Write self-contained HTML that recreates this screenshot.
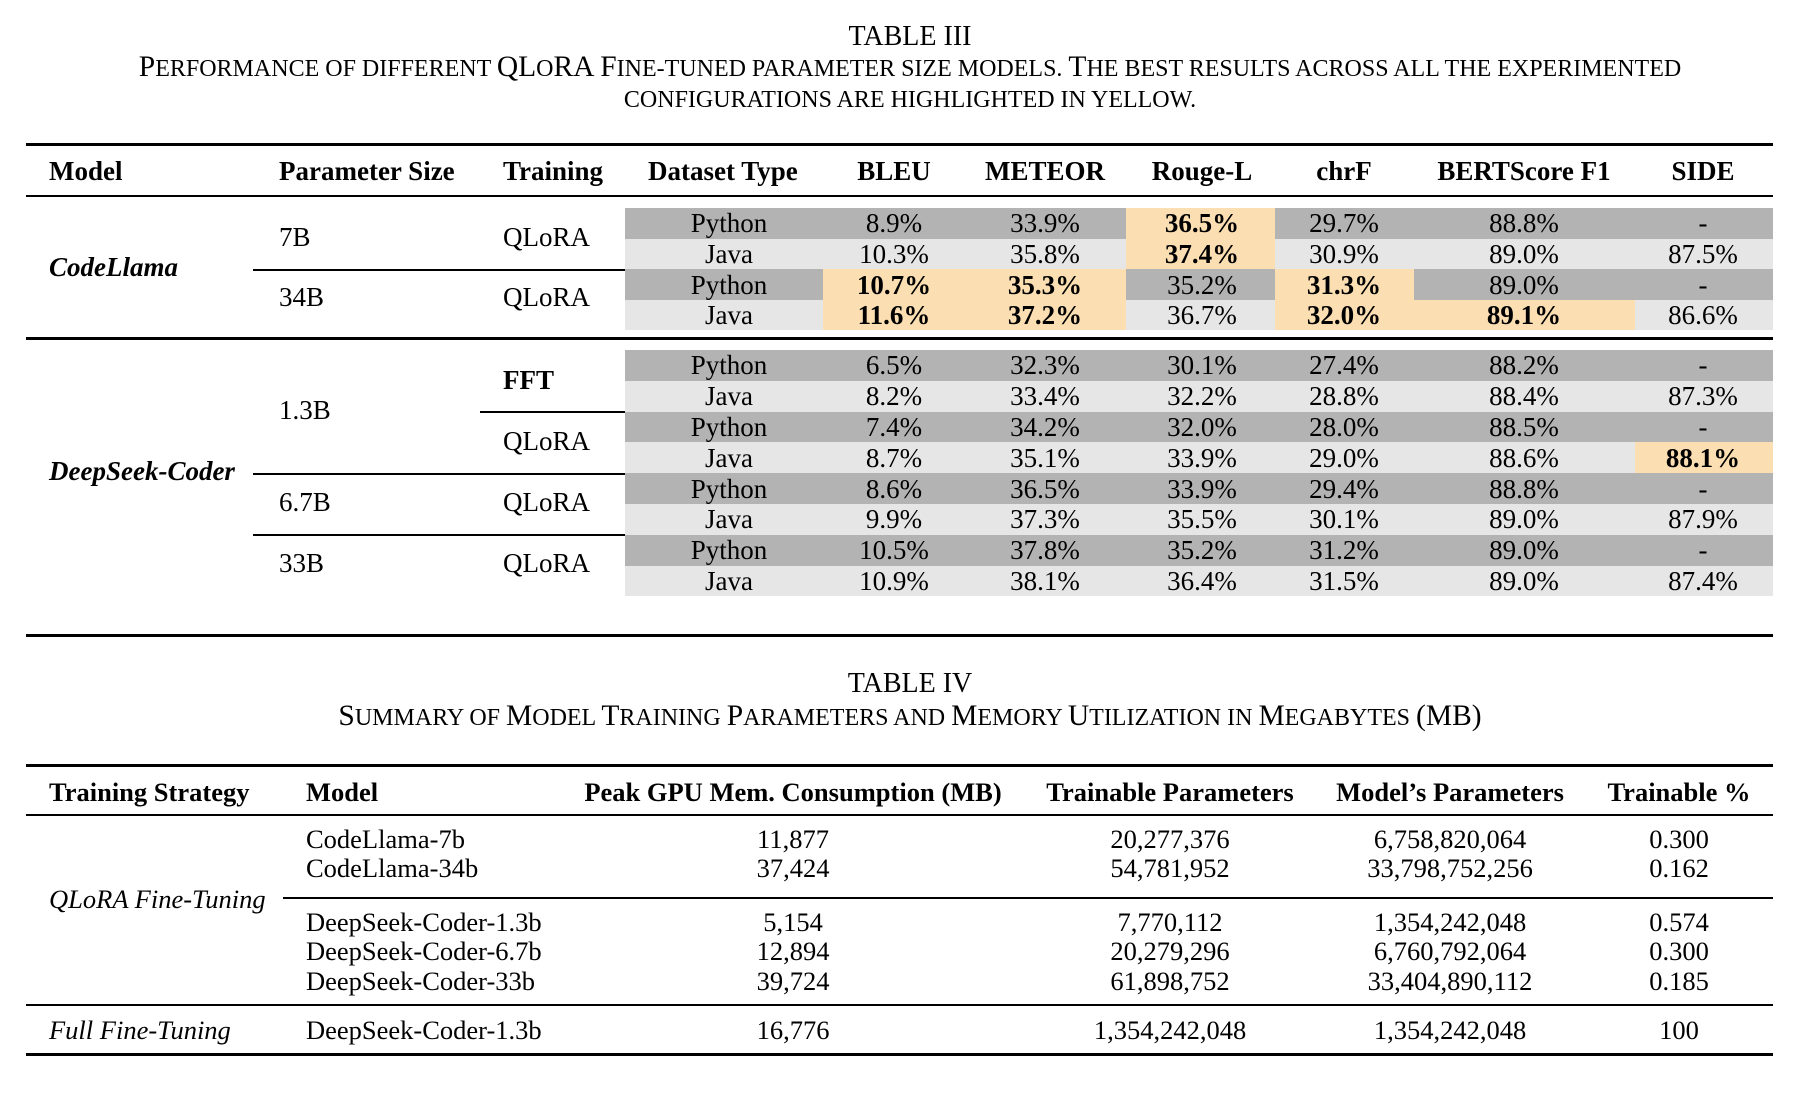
<!DOCTYPE html>
<html><head><meta charset="utf-8">
<style>
html,body{margin:0;padding:0;background:#fff;}
#root{position:relative;width:1820px;height:1094px;overflow:hidden;font-family:"Liberation Serif",serif;color:#000;}
.t{position:absolute;white-space:nowrap;font-size:27px;line-height:30px;}
.t4{font-size:26.5px;}
.c{transform:translateX(-50%);}
.b{font-weight:bold;}
.i{font-style:italic;}
.rule{position:absolute;background:#000;}
.cell{position:absolute;}
.cap{position:absolute;left:0;width:1820px;text-align:center;font-size:28px;line-height:32px;white-space:nowrap;}
.cap .s{font-size:24px;text-transform:uppercase;}
.cap .k{font-size:29.5px;}
</style></head>
<body>
<div id="root">
<div class="cap" style="top:21px">TABLE III</div>
<div class="cap" style="top:51px"><span class="k">P</span><span class="s">erformance of different </span><span class="k">QL</span><span class="s">o</span><span class="k">RA F</span><span class="s">ine-tuned parameter size models. </span><span class="k">T</span><span class="s">he best results across all the experimented</span></div>
<div class="cap" style="top:83px"><span class="s">configurations are highlighted in yellow.</span></div>
<div class="cap" style="top:668px">TABLE IV</div>
<div class="cap" style="top:700px"><span class="k">S</span><span class="s">ummary of </span><span class="k">M</span><span class="s">odel </span><span class="k">T</span><span class="s">raining </span><span class="k">P</span><span class="s">arameters and </span><span class="k">M</span><span class="s">emory </span><span class="k">U</span><span class="s">tilization in </span><span class="k">M</span><span class="s">egabytes </span><span class="k">(MB)</span></div>
</div>
<script>
// ---- Table III data ----
const t3Headers = ["Model","Parameter Size","Training","Dataset Type","BLEU","METEOR","Rouge-L","chrF","BERTScore F1","SIDE"];
const t3Datasets = ["Python","Java","Python","Java","Python","Java","Python","Java","Python","Java","Python","Java"];
const t3Bleu   = ["8.9%","10.3%","10.7%","11.6%","6.5%","8.2%","7.4%","8.7%","8.6%","9.9%","10.5%","10.9%"];
const t3Meteor = ["33.9%","35.8%","35.3%","37.2%","32.3%","33.4%","34.2%","35.1%","36.5%","37.3%","37.8%","38.1%"];
const t3Rouge  = ["36.5%","37.4%","35.2%","36.7%","30.1%","32.2%","32.0%","33.9%","33.9%","35.5%","35.2%","36.4%"];
const t3Chrf   = ["29.7%","30.9%","31.3%","32.0%","27.4%","28.8%","28.0%","29.0%","29.4%","30.1%","31.2%","31.5%"];
const t3Bert   = ["88.8%","89.0%","89.0%","89.1%","88.2%","88.4%","88.5%","88.6%","88.8%","89.0%","89.0%","89.0%"];
const t3Side   = ["-","87.5%","-","86.6%","-","87.3%","-","88.1%","-","87.9%","-","87.4%"];
const t3Best = ["0:3","1:3","2:1","2:2","2:4","3:1","3:2","3:4","3:5","7:6"];

// ---- Table IV data ----
const t4Headers = ["Training Strategy","Model","Peak GPU Mem. Consumption (MB)","Trainable Parameters","Model\u2019s Parameters","Trainable %"];
const t4Models = ["CodeLlama-7b","CodeLlama-34b","DeepSeek-Coder-1.3b","DeepSeek-Coder-6.7b","DeepSeek-Coder-33b","DeepSeek-Coder-1.3b"];
const t4Mem = ["11,877","37,424","5,154","12,894","39,724","16,776"];
const t4Trainable = ["20,277,376","54,781,952","7,770,112","20,279,296","61,898,752","1,354,242,048"];
const t4Params = ["6,758,820,064","33,798,752,256","1,354,242,048","6,760,792,064","33,404,890,112","1,354,242,048"];
const t4Pct = ["0.300","0.162","0.574","0.300","0.185","100"];

const root = document.getElementById('root');
function txt(x, y, s, cls, name) {
  const el = document.createElement('div');
  el.className = 't ' + (cls || '');
  el.style.left = x + 'px';
  el.style.top = (y - 15) + 'px';
  el.textContent = s;
  
  
  root.appendChild(el);
  return el;
}
function rule(x, y, w, h, name) {
  const el = document.createElement('div');
  el.className = 'rule';
  el.style.left = x + 'px'; el.style.top = y + 'px';
  el.style.width = w + 'px'; el.style.height = h + 'px';
  
  
  root.appendChild(el);
}
function box(x, y, w, h, color, name) {
  const el = document.createElement('div');
  el.className = 'cell';
  el.style.left = x + 'px'; el.style.top = y + 'px';
  el.style.width = w + 'px'; el.style.height = h + 'px';
  el.style.background = color;
  
  
  root.appendChild(el);
}

const L = 26, R = 1773;
rule(L, 143, R - L, 3, 't3-top-rule');
rule(L, 195, R - L, 2, 't3-header-rule');
rule(L, 337, R - L, 3, 't3-group-rule');
rule(L, 634, R - L, 3, 't3-bottom-rule');
const hx = [49, 279, 503, 648, 894, 1045, 1202, 1344, 1524, 1703];
t3Headers.forEach((h, i) => {
  txt(hx[i], 171, h, 'b' + (i >= 4 ? ' c' : ''), 'header-' + h.toLowerCase().replace(/[^a-z0-9]+/g, '-'));
});
const colB = [625, 823, 969, 1126, 1275, 1414, 1635, 1773];
const colC = [729, 894, 1045, 1202, 1344, 1524, 1703];
const series = [t3Datasets, t3Bleu, t3Meteor, t3Rouge, t3Chrf, t3Bert, t3Side];
const sNames = ['dataset', 'bleu', 'meteor', 'rouge-l', 'chrf', 'bertscore', 'side'];
function rowTop(r) { return r < 4 ? 208 + r * 30.6 : 350 + (r - 4) * 30.8; }
for (let r = 0; r < t3Datasets.length; r++) {
  const y = rowTop(r), h = r < 4 ? 30.6 : 30.8;
  for (let c = 0; c < 7; c++) {
    const best = t3Best.indexOf(r + ':' + c) >= 0;
    const color = best ? '#fbdfb2' : (r % 2 === 0 ? '#b3b3b3' : '#e6e6e6');
    box(colB[c], y, colB[c + 1] - colB[c], h, color, 'cell-bg-' + sNames[c] + '-' + r);
    txt(colC[c], y + h / 2, series[c][r], 'c' + (best ? ' b' : ''), 'cell-' + sNames[c] + '-' + r);
  }
}
txt(49, 267, 'CodeLlama', 'b i', 'model-codellama');
txt(49, 471, 'DeepSeek-Coder', 'b i', 'model-deepseek-coder');
txt(279, 237, '7B', '', 'size-7b');
txt(279, 297, '34B', '', 'size-34b');
txt(503, 237, 'QLoRA', '', 'training-7b');
txt(503, 297, 'QLoRA', '', 'training-34b');
txt(279, 410, '1.3B', '', 'size-1-3b');
txt(503, 380, 'FFT', 'b', 'training-fft');
txt(503, 441, 'QLoRA', '', 'training-1-3b-qlora');
txt(279, 502, '6.7B', '', 'size-6-7b');
txt(503, 502, 'QLoRA', '', 'training-6-7b');
txt(279, 563, '33B', '', 'size-33b');
txt(503, 563, 'QLoRA', '', 'training-33b');
rule(253, 269, 372, 2, 'rule-7b-34b');
rule(480, 411, 145, 2, 'rule-fft-qlora');
rule(253, 473, 372, 2, 'rule-1-3b-6-7b');
rule(253, 534, 372, 2, 'rule-6-7b-33b');

// Table IV
rule(L, 764, R - L, 3, 't4-top-rule');
rule(L, 814, R - L, 2, 't4-header-rule');
rule(283, 897, R - 283, 2, 't4-group-sep');
rule(L, 1004, R - L, 2, 't4-strategy-sep');
rule(L, 1053, R - L, 3, 't4-bottom-rule');
const h4x = [49, 306, 793, 1170, 1450, 1679];
t4Headers.forEach((h, i) => {
  txt(h4x[i], 792, h, 't4 b' + (i >= 2 ? ' c' : ''), 't4-header-' + h.toLowerCase().replace(/[^a-z0-9]+/g, '-'));
});
const r4y = [839, 868, 922, 951, 981, 1030];
for (let r = 0; r < t4Models.length; r++) {
  txt(306, r4y[r], t4Models[r], 't4', 't4-model-' + r);
  txt(793, r4y[r], t4Mem[r], 't4 c', 't4-mem-' + r);
  txt(1170, r4y[r], t4Trainable[r], 't4 c', 't4-trainable-' + r);
  txt(1450, r4y[r], t4Params[r], 't4 c', 't4-params-' + r);
  txt(1679, r4y[r], t4Pct[r], 't4 c', 't4-pct-' + r);
}
txt(49, 899, 'QLoRA Fine-Tuning', 't4 i', 't4-strategy-qlora');
txt(49, 1030, 'Full Fine-Tuning', 't4 i', 't4-strategy-full');
</script>
</body></html>
